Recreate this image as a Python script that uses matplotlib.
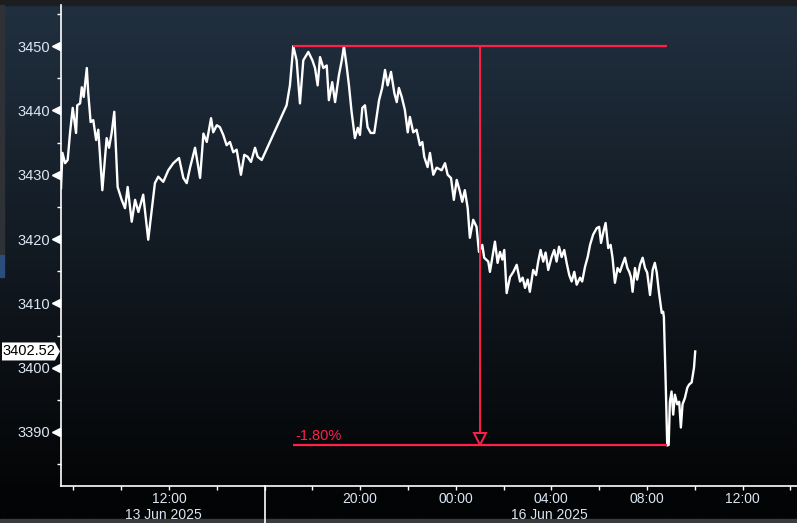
import numpy as np
import matplotlib
matplotlib.use("Agg")
import matplotlib.pyplot as plt
from matplotlib.patches import Polygon, Rectangle
from matplotlib.transforms import blended_transform_factory
from matplotlib.colors import to_rgb

plt.rcParams['font.family'] = ['Liberation Sans Narrow', 'Liberation Sans', 'DejaVu Sans']

# session hours, measured from 13 Jun 12:00 (weekend removed from the axis)
hours = [
    -4.52, -4.46, -4.35, -4.24, -4.14, -4.03, -3.89, -3.84, -3.72, -3.65,
    -3.57, -3.44, -3.38, -3.28, -3.17, -3.05, -2.96, -2.79, -2.61, -2.51,
    -2.40, -2.29, -2.15, -1.98, -1.84, -1.73, -1.56, -1.42, -1.28, -1.08,
    -0.87, -0.59, -0.45, -0.24, -0.03, 0.18, 0.42, 0.60, 0.74, 0.88,
    1.09, 1.30, 1.44,
    1.58, 1.76, 1.85, 2.00, 2.13, 2.27, 2.41, 2.55, 2.69, 2.83,
    3.01, 3.15, 3.29, 3.43, 3.60, 3.71, 3.88,
    4.92, 5.06, 5.20, 5.34, 5.48, 5.62, 5.83, 6.00, 6.11, 6.22,
    6.32, 6.46, 6.60, 6.69, 6.83, 6.95, 7.11, 7.23, 7.32,
    7.44, 7.53, 7.64, 7.78, 7.90, 7.99, 8.09, 8.20, 8.31, 8.44,
    8.59, 8.69, 8.79, 8.92, 9.04, 9.15, 9.29, 9.43, 9.53, 9.62,
    9.74, 9.87, 9.99, 10.08, 10.22, 10.36, 10.50, 10.60, 10.68, 10.82,
    10.92, 11.06, 11.20, 11.41, 11.55, 11.66, 11.80, 11.92, 12.04, 12.18,
    12.27, 12.38, 12.50, 12.59, 12.73, 12.87, 12.97, 13.11, 13.19,
    13.36, 13.43, 13.53, 13.64, 13.75, 13.85, 13.95, 14.03, 14.13, 14.27,
    14.41, 14.55, 14.69, 14.80, 14.90, 15.01, 15.10, 15.24, 15.36, 15.45,
    15.55, 15.66, 15.76, 15.87, 16.01, 16.12, 16.22, 16.32, 16.43, 16.54,
    16.64, 16.75, 16.85, 16.96, 17.06, 17.20, 17.29, 17.41, 17.52,
    17.62, 17.75, 17.90, 18.00, 18.08, 18.17, 18.27, 18.38, 18.48, 18.56,
    18.66, 18.77, 18.87, 18.97, 19.08, 19.18, 19.26, 19.33, 19.40, 19.50,
    19.59, 19.71, 19.82, 19.92, 20.01, 20.13, 20.24, 20.33, 20.41, 20.50,
    20.62, 20.68, 20.71, 20.79, 20.85, 20.91, 20.96, 21.03, 21.10, 21.17,
    21.27, 21.35, 21.42, 21.49, 21.59, 21.69, 21.77, 21.87, 21.97, 22.02,
]

prices = [
    3427.9, 3433.4, 3431.8, 3432.3, 3436.6, 3440.4, 3436.5, 3440.8, 3441.1, 3443.6,
    3442.1, 3446.6, 3442.7, 3438.2, 3438.5, 3435.4, 3437.0, 3427.6, 3435.7, 3434.2,
    3436.5, 3439.8, 3428.1, 3426.1, 3424.8, 3428.1, 3422.7, 3426.1, 3424.2, 3426.9,
    3419.9, 3428.7, 3429.7, 3428.9, 3430.7, 3431.8, 3432.6, 3429.5, 3428.7, 3431.1,
    3434.2, 3429.5, 3436.4,
    3435.1, 3438.8, 3436.6, 3437.7, 3437.4, 3436.2, 3434.6, 3435.1, 3433.5, 3433.9,
    3430.0, 3433.1, 3432.8, 3432.0, 3434.2, 3432.8, 3432.3,
    3440.8, 3443.9, 3450.0, 3447.8, 3441.1, 3447.8, 3449.1, 3447.8, 3446.6, 3443.9,
    3448.3, 3446.6, 3447.0, 3441.6, 3444.4, 3441.3, 3445.5, 3447.8, 3450.0,
    3446.7, 3443.9, 3439.8, 3435.7, 3437.3, 3436.2, 3440.4, 3440.8, 3437.4, 3436.5,
    3436.5, 3439.0, 3441.6, 3443.5, 3446.3, 3443.9, 3446.0, 3442.7, 3441.3, 3443.5,
    3442.1, 3440.1, 3436.6, 3439.0, 3436.6, 3437.0, 3434.6, 3435.1, 3432.8, 3431.2,
    3433.4, 3430.0, 3431.1, 3430.7, 3431.8, 3430.0, 3429.5, 3426.1, 3429.2, 3427.3,
    3425.8, 3427.6, 3424.8, 3420.2, 3423.0, 3421.9, 3418.0, 3419.1, 3417.1,
    3416.5, 3414.9, 3417.1, 3419.6, 3416.3, 3418.0, 3416.8, 3418.3, 3411.6, 3414.1,
    3414.9, 3416.0, 3413.4, 3414.0, 3412.4, 3413.7, 3411.8, 3415.2, 3414.4, 3416.5,
    3418.3, 3416.5, 3417.9, 3415.2, 3417.2, 3418.3, 3416.5, 3418.8, 3417.2, 3418.3,
    3416.3, 3414.4, 3413.4, 3414.9, 3412.9, 3414.0, 3413.4, 3415.7, 3417.2,
    3419.1, 3420.7, 3421.7, 3421.9, 3419.4, 3421.0, 3422.5, 3418.6, 3419.1, 3417.1,
    3413.2, 3415.5, 3414.9, 3416.0, 3417.1, 3415.5, 3414.9, 3414.1, 3411.8, 3415.5,
    3413.7, 3416.0, 3417.1, 3415.5, 3414.8, 3411.3, 3415.2, 3416.3, 3414.8, 3411.8,
    3408.5, 3408.7, 3407.8, 3396.9, 3387.9, 3388.0, 3394.7, 3396.3, 3392.7, 3395.8,
    3394.3, 3394.7, 3390.7, 3394.3, 3395.3, 3396.9, 3397.4, 3397.7, 3400.0, 3402.52,
]

y_ticks = [3390, 3400, 3410, 3420, 3430, 3440, 3450]
x_tick_pos = [0, 8, 12, 16, 20, 24]
x_tick_labels = ["12:00", "20:00", "00:00", "04:00", "08:00", "12:00"]
day_labels = ["13 Jun 2025", "16 Jun 2025"]
day_break = 4  # 13 Jun 16:00 -> session resumes

W, H = 797, 523
RED = "#ff1f48"
TXT = "#dbe6f2"

fig = plt.figure(figsize=(W / 100, H / 100), dpi=100)
fig.patch.set_facecolor("#030405")

# background gradient over the whole window
bg = fig.add_axes([0, 0, 1, 1], zorder=0)
bg.axis("off")
top_c = np.array(to_rgb("#213040"))
bot_c = np.array(to_rgb("#040506"))
rows = np.arange(H)
frac = np.clip(rows / 486.0, 0, 1)[:, None]
grad = top_c * (1 - frac) + bot_c * frac
grad[486:] = to_rgb("#030405")
img = np.repeat(grad[:, None, :], 4, axis=1)
bg.imshow(img, aspect="auto", extent=[0, W, H, 0], interpolation="bilinear")
bg.set_xlim(0, W)
bg.set_ylim(H, 0)
# window chrome bits
bg.add_patch(Rectangle((0, 0), W, 5, color="#1c1d1e"))
bg.add_patch(Rectangle((0, 5), 4, 250, color="#2e3236"))
bg.add_patch(Rectangle((0, 255), 4, 22, color="#2a4d7a"))
bg.add_patch(Rectangle((0, 519), W, 4, color="#3a3b3c"))

ax = fig.add_axes([61 / W, (H - 486) / H, 736 / W, 481 / H], zorder=1)
ax.patch.set_alpha(0)

ax.plot(hours, prices, color="white", lw=1.7, solid_joinstyle="round")

ax.set_xlim(-4.52, 26.28)
ax.set_ylim(3381.6, 3456.4)

for s in ["top", "right"]:
    ax.spines[s].set_visible(False)
for s in ["left", "bottom"]:
    ax.spines[s].set_color("white")
    ax.spines[s].set_linewidth(1.2)

ax.set_yticks(y_ticks)
ax.set_yticks(np.arange(3385, 3460, 10), minor=True)
ax.tick_params(axis="y", which="major", length=0, pad=8, labelsize=10.5, labelcolor=TXT)
ax.tick_params(axis="y", which="minor", length=3, width=1, color="white")
ax.set_xticks(x_tick_pos)
ax.set_xticklabels(x_tick_labels)
ax.set_xticks(np.arange(-4, 27, 2), minor=True)
ax.tick_params(axis="x", which="both", length=3, width=1, color="white",
               pad=1.5, labelsize=10, labelcolor=TXT)

# left-pointing tick arrows for the major y ticks
ytr = blended_transform_factory(ax.transAxes, ax.transData)
ax.plot([-5 / 736] * len(y_ticks), y_ticks, ls="none", marker="<", ms=6,
        color="white", transform=ytr, clip_on=False)

# day separator and day labels
xtr = blended_transform_factory(ax.transData, ax.transAxes)
ax.plot([day_break, day_break], [0, -37 / 481], color="white", lw=1.2,
        transform=xtr, clip_on=False)
fig.text(163 / W, (H - 515) / H, day_labels[0], color=TXT, fontsize=10,
         ha="center", va="center")
fig.text(549 / W, (H - 515) / H, day_labels[1], color=TXT, fontsize=10,
         ha="center", va="center")

# high / low annotation
p = np.array(prices)
t = np.array(hours)
i_hi = int(np.argmax(p))
i_lo = int(np.argmin(p))
hi, lo = p[i_hi], p[i_lo]
t0, t1 = t[i_hi], t[i_lo]
tm = (t0 + t1) / 2
ax.plot([t0, t1], [hi, hi], color=RED, lw=1.6, solid_capstyle="butt")
ax.plot([t0, t1], [lo, lo], color=RED, lw=1.6, solid_capstyle="butt")
ax.plot([tm, tm], [hi, lo + 2.0], color=RED, lw=1.4)
ax.plot([tm], [lo + 1.0], marker="v", ms=9, mfc="none", mec=RED, mew=1.4)
pct = (lo / hi - 1) * 100
ax.text(t0 + 0.1, lo + 0.4, f"{pct:.2f}%", color=RED, fontsize=10.5,
        ha="left", va="bottom")

# last price tag
last = prices[-1]
fig.canvas.draw()
yd = ax.transData.transform((0, last))[1]
hh = 9
pts = [(2, yd - hh), (55, yd - hh), (60, yd), (55, yd + hh), (2, yd + hh)]
pts = [(x / W, y / H) for x, y in pts]
fig.add_artist(Polygon(pts, closed=True, facecolor="white", edgecolor="none",
                       transform=fig.transFigure, zorder=5))
fig.text(29 / W, yd / H, f"{last:.2f}", color="black", fontsize=10.5,
         ha="center", va="center", zorder=6)

fig.savefig("out.png", dpi=100, facecolor=fig.get_facecolor())
